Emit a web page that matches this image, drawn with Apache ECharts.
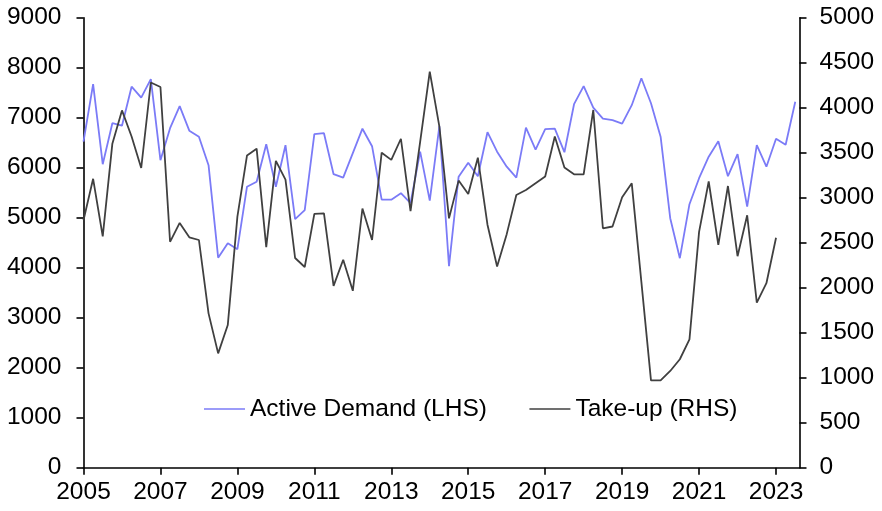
<!DOCTYPE html>
<html>
<head>
<meta charset="utf-8">
<script src="https://cdn.jsdelivr.net/npm/echarts@6/dist/echarts.min.js"></script>
<style>
html,body{margin:0;padding:0;background:#fff;}
#chart{width:882px;height:511px;}
</style>
</head>
<body>
<div id="chart"></div>
<script>
// Quarterly series starting 2005 Q1
const startYear = 2005;
const activeDemand = [6520, 7670, 6070, 6890, 6840, 7620, 7400, 7770, 6150, 6790,
  7230, 6740, 6620, 6050, 4200, 4490, 4370, 5620, 5720, 6470,
  5620, 6450, 4970, 5150, 6670, 6690, 5870, 5800, 6290, 6780,
  6430, 5360, 5360, 5490, 5290, 6320, 5340, 6830, 4030, 5820,
  6100, 5830, 6710, 6320, 6020, 5800, 6800, 6360, 6770, 6780,
  6310, 7270, 7630, 7200, 6980, 6950, 6880, 7250, 7790, 7290,
  6620, 4990, 4190, 5270, 5790, 6220, 6530, 5830, 6270, 5220,
  6450, 6020, 6580, 6460, 7320];
const takeUp = [2750, 3210, 2570, 3600, 3970, 3680, 3330, 4280, 4230, 2510,
  2720, 2560, 2530, 1715, 1270, 1585, 2790, 3470, 3545, 2450,
  3410, 3200, 2330, 2230, 2820, 2825, 2020, 2310, 1965, 2880,
  2530, 3500, 3420, 3655, 2850, 3620, 4400, 3790, 2770, 3190,
  3040, 3445, 2700, 2235, 2595, 3030, 3085, 3160, 3235, 3680,
  3335, 3260, 3260, 3975, 2660, 2680, 3005, 3160, 2065, 970,
  970, 1075, 1205, 1425, 2620, 3180, 2475, 3130, 2350, 2805,
  1835, 2050, 2555];
const leftTicks = {min: 0, max: 9000, interval: 1000};
const rightTicks = {min: 0, max: 5000, interval: 500};
const seriesNames = ['Active Demand (LHS)', 'Take-up (RHS)'];

const toPoints = arr => arr.map((v, i) => [startYear + i / 4, v]);
const plain = v => String(v);

const FONT = 'Liberation Sans, Arial, sans-serif';
const FS = 24.5;
const chart = echarts.init(document.getElementById('chart'));
chart.setOption({
  animation: false,
  backgroundColor: '#ffffff',
  grid: {left: 83.5, right: 82.5, top: 17.7, bottom: 43.3, containLabel: false},
  legend: {
    left: 199, top: 391.5,
    itemWidth: 41, itemHeight: 24, itemGap: 42.5,
    textStyle: {fontFamily: FONT, fontSize: FS, color: '#000'},
    data: [
      {name: seriesNames[0], icon: 'path://M0,0 L40,0 L40,1.6 L0,1.6 Z'},
      {name: seriesNames[1], icon: 'path://M0,0 L40,0 L40,1.6 L0,1.6 Z'}
    ]
  },
  xAxis: {
    type: 'value', min: 2005, max: 2023.61, interval: 2,
    splitLine: {show: false},
    axisLine: {lineStyle: {color: '#000', width: 1.6}},
    axisTick: {length: 7, lineStyle: {color: '#000', width: 1.6}},
    axisLabel: {
      fontFamily: FONT, fontSize: FS, color: '#000', margin: 12,
      showMaxLabel: false,
      formatter: v => Number.isInteger(v) ? String(v) : ''
    }
  },
  yAxis: [
    {
      type: 'value', min: leftTicks.min, max: leftTicks.max, interval: leftTicks.interval,
      position: 'left',
      splitLine: {show: false},
      axisLine: {show: true, lineStyle: {color: '#000', width: 1.6}},
      axisTick: {show: true, length: 7, lineStyle: {color: '#000', width: 1.6}},
      axisLabel: {fontFamily: FONT, fontSize: FS, color: '#000', margin: 22, formatter: plain}
    },
    {
      type: 'value', min: rightTicks.min, max: rightTicks.max, interval: rightTicks.interval,
      position: 'right',
      splitLine: {show: false},
      axisLine: {show: true, lineStyle: {color: '#000', width: 1.6}},
      axisTick: {show: true, length: 7, lineStyle: {color: '#000', width: 1.6}},
      axisLabel: {fontFamily: FONT, fontSize: FS, color: '#000', margin: 20, formatter: plain}
    }
  ],
  series: [
    {
      name: seriesNames[0], type: 'line', yAxisIndex: 0,
      data: toPoints(activeDemand), symbol: 'none',
      lineStyle: {color: '#7b7bf7', width: 1.8},
      itemStyle: {color: '#7b7bf7'}
    },
    {
      name: seriesNames[1], type: 'line', yAxisIndex: 1,
      data: toPoints(takeUp), symbol: 'none',
      lineStyle: {color: '#404040', width: 1.8},
      itemStyle: {color: '#404040'}
    }
  ]
});
</script>
</body>
</html>
